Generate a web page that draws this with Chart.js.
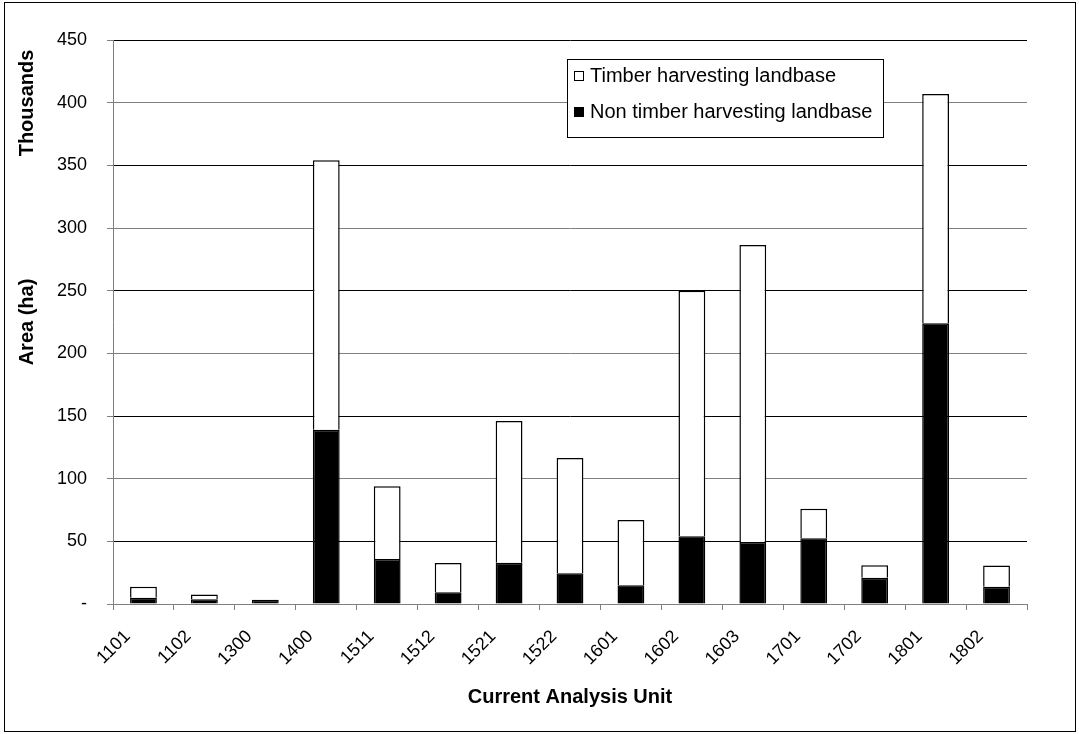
<!DOCTYPE html>
<html>
<head>
<meta charset="utf-8">
<script src="https://cdn.jsdelivr.net/npm/chart.js@4"></script>
<style>
  html, body { margin: 0; padding: 0; background: #fff; }
</style>
</head>
<body>
<canvas id="chart" width="1079" height="734"></canvas>
<script>
// analysis units and areas (thousands of ha)
const units = ["1101", "1102", "1300", "1400", "1511", "1512", "1521", "1522",
  "1601", "1602", "1603", "1701", "1702", "1801", "1802"];
const nonTimber = [5, 3.7, 3.4, 139, 36, 9.3, 33, 24.5, 15, 54, 49.5, 52.5, 21, 224, 13.8];
const timber = [8.7, 3.8, 0, 215, 58, 23.5, 113, 92, 52, 196, 237, 23.5, 10, 183, 17];
const yMax = 450;
const yStep = 50;

const FONT = "'Liberation Sans', Arial, sans-serif";

// titles, legend and the frame round the whole picture
const decorations = {
  id: "decorations",
  beforeDraw(chart) {
    const ctx = chart.ctx;
    ctx.save();
    ctx.fillStyle = "#fff";
    ctx.fillRect(0, 0, chart.width, chart.height);
    ctx.restore();
  },
  afterDraw(chart) {
    const ctx = chart.ctx;
    const area = chart.chartArea;
    ctx.save();
    ctx.fillStyle = "#000";
    ctx.font = "bold 20px " + FONT;
    ctx.textAlign = "center";
    ctx.textBaseline = "middle";

    // x title
    ctx.fillText("Current Analysis Unit", (area.left + area.right) / 2, 697);

    // y titles
    ctx.save();
    ctx.translate(27, (area.top + area.bottom) / 2);
    ctx.rotate(-Math.PI / 2);
    ctx.fillText("Area (ha)", 0, 0);
    ctx.restore();
    ctx.save();
    ctx.translate(27, 103);
    ctx.rotate(-Math.PI / 2);
    ctx.fillText("Thousands", 0, 0);
    ctx.restore();

    // legend box
    const bx = 567, by = 59, bw = 316, bh = 78;
    ctx.fillStyle = "#fff";
    ctx.fillRect(bx, by, bw, bh);
    ctx.strokeStyle = "#000";
    ctx.lineWidth = 1;
    ctx.strokeRect(bx + 0.5, by + 0.5, bw, bh);
    ctx.font = "20px " + FONT;
    ctx.textAlign = "left";
    const items = chart.data.datasets.slice().reverse();
    items.forEach((ds, i) => {
      const cy = by + 17 + i * 36;
      ctx.fillStyle = ds.backgroundColor;
      ctx.fillRect(bx + 7, cy - 5, 10, 10);
      ctx.strokeStyle = "#000";
      ctx.strokeRect(bx + 7.5, cy - 4.5, 9, 9);
      ctx.fillStyle = "#000";
      ctx.fillText(ds.label, bx + 23, cy);
    });

    // outer frame
    ctx.strokeStyle = "#000";
    ctx.strokeRect(4.5, 2.5, 1071, 729);
    ctx.restore();
  }
};

new Chart(document.getElementById("chart"), {
  type: "bar",
  data: {
    labels: units,
    datasets: [
      {
        label: "Non timber harvesting landbase",
        data: nonTimber,
        backgroundColor: "#000",
        borderColor: "#000",
        borderWidth: 1.5
      },
      {
        label: "Timber harvesting landbase",
        data: timber,
        backgroundColor: "#fff",
        borderColor: "#000",
        borderWidth: 1.5
      }
    ]
  },
  options: {
    responsive: false,
    animation: false,
    devicePixelRatio: 1,
    layout: { padding: { top: 40, right: 52, left: 0, bottom: 0 } },
    datasets: { bar: { categoryPercentage: 1, barPercentage: 0.44 } },
    plugins: { legend: { display: false }, tooltip: { enabled: false } },
    scales: {
      x: {
        stacked: true,
        afterFit: (s) => { s.height = 130; },
        grid: { drawOnChartArea: false, drawTicks: true, tickLength: 6, color: "#808080" },
        border: { color: "#808080" },
        ticks: {
          color: "#000",
          font: { family: FONT, size: 18 },
          minRotation: 45,
          maxRotation: 45,
          labelOffset: -16,
          padding: 16,
          autoSkip: false
        }
      },
      y: {
        stacked: true,
        min: 0,
        max: yMax,
        afterFit: (s) => { s.width = 113; },
        grid: {
          color: (c) => (c.index % 2 === 1 ? "#000" : "#808080"),
          tickColor: "#808080",
          tickLength: 6
        },
        border: { color: "#808080" },
        ticks: {
          stepSize: yStep,
          color: "#000",
          padding: 20,
          font: { family: FONT, size: 18 },
          callback: (v) => (v === 0 ? "-" : v)
        }
      }
    }
  },
  plugins: [decorations]
});
</script>
</body>
</html>
